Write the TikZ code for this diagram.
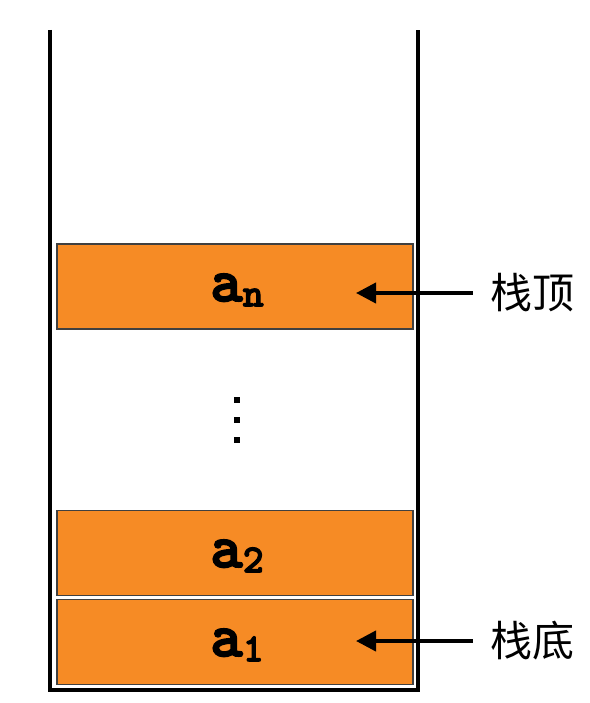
\documentclass[tikz,border=0pt]{standalone}
\usepackage{fontspec}
\usetikzlibrary{arrows.meta}
\newfontfamily\cour[FakeBold=2.5]{lmmonolt10-bold.otf}
\newfontfamily\cjk{Noto Sans CJK SC}
\definecolor{boxorange}{RGB}{246,139,37}
\definecolor{boxedge}{RGB}{64,64,64}
\newcommand{\elem}[1]{{\cour\fontsize{62}{62}\selectfont a\raisebox{-5pt}{\fontsize{40}{40}\selectfont #1}}}

\begin{document}
\begin{tikzpicture}[x=1pt,y=-1pt,
    cell/.style={draw=boxedge, line width=1.5pt, fill=boxorange, minimum width=356pt, minimum height=85pt, inner sep=0pt},
    tag/.style={font=\cjk\fontsize{42}{42}\selectfont, inner sep=0pt},
    pointer/.style={line width=4pt, -{Triangle[length=20pt,width=20pt]}}]
            \useasboundingbox (0,0) rectangle (589,703);

            % stack walls
            \draw[line width=4pt, line join=miter] (50,30) -- (50,689.5) -- (417.5,689.5) -- (417.5,30);

            \node[cell] (an) at (235,286.5) {};
            \node[cell] (a2) at (235,553) {};
            \node[cell] (a1) at (235,642) {};

            \node (tn) at (237,290) {\elem{n}};
            \node (t2) at (237,556) {\elem{2}};
            \node (t1) at (237,645) {\elem{1}};

            \foreach \y in {400,420,440}
                \fill (233.7,\y-3) rectangle ++(6,6);

            \node[tag] (top) at (532,293) {栈顶};
            \node[tag] (bottom) at (532,641) {栈底};
            \coordinate (ptop) at (356,293);
            \coordinate (pbottom) at (356,641);

            \draw[pointer] ([xshift=-17pt]top.west) -- (ptop);
            \draw[pointer] ([xshift=-17pt]bottom.west) -- (pbottom);
        \end{tikzpicture}
\end{document}
